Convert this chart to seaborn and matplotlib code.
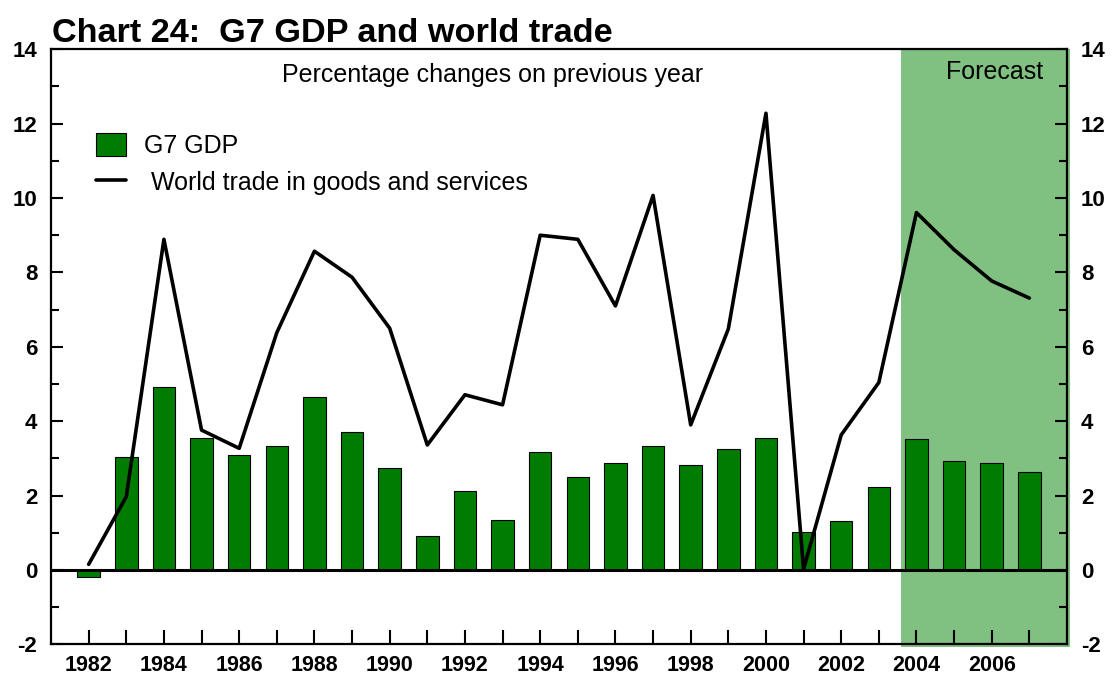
import matplotlib
matplotlib.use("Agg")
import matplotlib.pyplot as plt
from matplotlib.lines import Line2D
from matplotlib.patches import Patch
from matplotlib.ticker import MultipleLocator
import seaborn as sns

# Annual data (percentage changes on previous year)
years = list(range(1982, 2008))
g7_gdp = [-0.2, 3.03, 4.92, 3.55, 3.08, 3.34, 4.64, 3.71, 2.73, 0.92, 2.12, 1.33, 3.17,
          2.49, 2.87, 3.34, 2.83, 3.25, 3.55, 1.03, 1.31, 2.22, 3.53, 2.93, 2.87, 2.63]
world_trade = [0.15, 1.97, 8.89, 3.76, 3.27, 6.38, 8.57, 7.87, 6.5, 3.36, 4.71, 4.44, 9.0,
               8.89, 7.1, 10.07, 3.9, 6.48, 12.28, 0.02, 3.63, 5.04, 9.61, 8.61, 7.77, 7.31]
forecast_start = 2003.58
year_labels = [str(y) if y % 2 == 0 else "" for y in years]

BAR_GREEN = "#007D00"
SHADE_GREEN = "#80C080"

sns.set_style("ticks")
plt.rcParams["font.family"] = ["Liberation Sans", "DejaVu Sans"]
plt.rcParams.update({
    "text.color": "black",
    "axes.labelcolor": "black",
    "xtick.color": "black",
    "ytick.color": "black",
    "axes.unicode_minus": False,
})

fig = plt.figure(figsize=(11.12, 6.77), dpi=100)
ax = fig.add_axes([0.0459, 0.0483, 0.9136, 0.8789])

ax.axvspan(forecast_start, 2008.08, ymin=-0.005, ymax=1.0, color=SHADE_GREEN,
           lw=0, zorder=0, clip_on=False)

sns.barplot(x=years, y=g7_gdp, native_scale=True, width=0.6, color=BAR_GREEN,
            saturation=1, edgecolor="black", linewidth=0.8, errorbar=None,
            ax=ax, zorder=2)
sns.lineplot(x=years, y=world_trade, color="black", lw=2.6, ax=ax, zorder=4)
ax.axhline(0, color="black", lw=2.2, zorder=3)

ax.set_xlim(1981, 2008)
ax.set_ylim(-2, 14)
ax.set_xticks(years)
ax.set_xticklabels(year_labels)
ax.yaxis.set_major_locator(MultipleLocator(2))
ax.yaxis.set_minor_locator(MultipleLocator(1))

for side in ("left", "right", "top", "bottom"):
    ax.spines[side].set_visible(True)
    ax.spines[side].set_linewidth(1.6)
    ax.spines[side].set_color("black")

ax.tick_params(axis="x", direction="in", length=10, width=1.5, pad=8,
               labelsize=15.5, top=False)
ax.tick_params(axis="y", which="major", direction="in", length=8.5, width=1.5,
               pad=10, labelsize=16, left=True, right=True, labelright=True)
ax.tick_params(axis="y", which="minor", direction="in", length=6, width=1.5,
               left=True, right=True)
for lbl in ax.get_xticklabels():
    lbl.set_fontweight("bold")
for t in ax.yaxis.get_major_ticks():
    t.label1.set_fontweight("bold")
    t.label2.set_fontweight("bold")
ax.set_xlabel("")
ax.set_ylabel("")

ax.text(0.435, 0.957, "Percentage changes on previous year", transform=ax.transAxes,
        ha="center", va="center", fontsize=18)
ax.text(0.929, 0.962, "Forecast", transform=ax.transAxes,
        ha="center", va="center", fontsize=18)

handles = [Patch(facecolor=BAR_GREEN, edgecolor="black", linewidth=0.8),
           Line2D([0], [0], color="black", lw=2.6)]
ax.legend(handles, ["G7 GDP", " World trade in goods and services"], loc="upper left",
          bbox_to_anchor=(0.034, 0.876), frameon=False, fontsize=18,
          handlelength=1.2, handleheight=1.05, handletextpad=0.75, labelspacing=0.45,
          borderaxespad=0)

fig.text(52 / 1112, 1 - 42 / 677, "Chart 24:  G7 GDP and world trade",
         fontsize=24.7, fontweight="bold", ha="left", va="baseline")

fig.savefig("out.png", dpi=100)
